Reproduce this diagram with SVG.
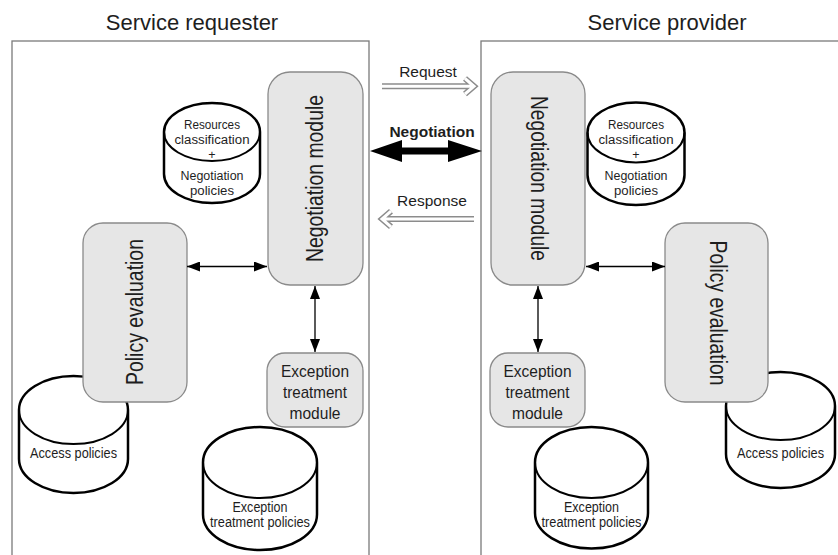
<svg xmlns="http://www.w3.org/2000/svg" width="838" height="555" viewBox="0 0 838 555">
<style>
text{font-family:"Liberation Sans",Arial,sans-serif;fill:#1e1e1e}
.title{font-size:22px;text-anchor:middle}
.panel{fill:none;stroke:#7a7a7a;stroke-width:1.3}
.mod{fill:#e6e6e6;stroke:#8a8a8a;stroke-width:1.3}
.big{font-size:23px;text-anchor:middle}
.mid{font-size:17px;text-anchor:middle}
.sm{font-size:14px;text-anchor:middle}
.xs{font-size:12.5px;text-anchor:middle}
.cyl{fill:#fff;stroke:#000;stroke-width:2.5}
.cylin{fill:none;stroke:#000;stroke-width:2}
.link{fill:none;stroke:#000;stroke-width:1.3}
.hol1{fill:none;stroke:#8c8c8c;stroke-width:6}
.hol2{fill:none;stroke:#fff;stroke-width:3}
.lbl{font-size:15.5px;text-anchor:middle}
</style>
<defs>
<marker id="ah" viewBox="0 0 13 10" refX="13" refY="5" markerWidth="13" markerHeight="10" markerUnits="userSpaceOnUse" orient="auto-start-reverse">
<path d="M0,0 L13,5 L0,10 z" fill="#000"/>
</marker>
</defs>
<rect width="838" height="555" fill="#fff"/>

<g id="requester-panel">
<rect class="panel" x="12" y="41" width="357" height="530"/>
<text class="title" x="192" y="30">Service requester</text>
</g>
<g id="provider-panel">
<rect class="panel" x="481" y="41" width="400" height="530"/>
<text class="title" x="667" y="30">Service provider</text>
</g>

<g id="req-resources-db">
<path class="cyl" d="M164,132 A48,29 0 0 1 260,132 V174 A48,29 0 0 1 164,174 Z"/>
<path class="cylin" d="M164,132 A48,29 0 0 0 260,132"/>
<text class="xs" x="212" y="129" textLength="56" lengthAdjust="spacingAndGlyphs">Resources</text>
<text class="xs" x="212" y="143.5" textLength="75" lengthAdjust="spacingAndGlyphs">classification</text>
<text class="xs" x="212" y="159">+</text>
<text class="xs" x="212" y="180" textLength="63" lengthAdjust="spacingAndGlyphs">Negotiation</text>
<text class="xs" x="212" y="194.5" textLength="44" lengthAdjust="spacingAndGlyphs">policies</text>
</g>

<g id="prov-resources-db">
<path class="cyl" d="M587.5,132.5 A48.5,30 0 0 1 684.5,132.5 V175 A48.5,30 0 0 1 587.5,175 Z"/>
<path class="cylin" d="M587.5,132.5 A48.5,30 0 0 0 684.5,132.5"/>
<text class="xs" x="636" y="129" textLength="56" lengthAdjust="spacingAndGlyphs">Resources</text>
<text class="xs" x="636" y="143.5" textLength="75" lengthAdjust="spacingAndGlyphs">classification</text>
<text class="xs" x="636" y="159">+</text>
<text class="xs" x="636" y="180" textLength="63" lengthAdjust="spacingAndGlyphs">Negotiation</text>
<text class="xs" x="636" y="194.5" textLength="44" lengthAdjust="spacingAndGlyphs">policies</text>
</g>

<g id="req-access-db">
<path class="cyl" d="M19,410 A54.5,34 0 0 1 128,410 V459 A54.5,34 0 0 1 19,459 Z"/>
<path class="cylin" d="M19,410 A54.5,34 0 0 0 128,410"/>
<text class="sm" x="73.5" y="457.5" textLength="87" lengthAdjust="spacingAndGlyphs">Access policies</text>
</g>

<g id="prov-access-db">
<path class="cyl" d="M726,406 A54.5,34 0 0 1 835,406 V454 A54.5,34 0 0 1 726,454 Z"/>
<path class="cylin" d="M726,406 A54.5,34 0 0 0 835,406"/>
<text class="sm" x="780.5" y="457.5" textLength="87" lengthAdjust="spacingAndGlyphs">Access policies</text>
</g>

<g id="req-exception-db">
<path class="cyl" d="M203,462.5 A57,35.5 0 0 1 317,462.5 V514.5 A57,35.5 0 0 1 203,514.5 Z"/>
<path class="cylin" d="M203,462.5 A57,35.5 0 0 0 317,462.5"/>
<text class="sm" x="260" y="512" textLength="55" lengthAdjust="spacingAndGlyphs">Exception</text>
<text class="sm" x="260" y="527" textLength="100" lengthAdjust="spacingAndGlyphs">treatment policies</text>
</g>

<g id="prov-exception-db">
<path class="cyl" d="M535,462.5 A56.5,35.5 0 0 1 648,462.5 V513 A56.5,35.5 0 0 1 535,513 Z"/>
<path class="cylin" d="M535,462.5 A56.5,35.5 0 0 0 648,462.5"/>
<text class="sm" x="591.5" y="512" textLength="55" lengthAdjust="spacingAndGlyphs">Exception</text>
<text class="sm" x="591.5" y="527" textLength="100" lengthAdjust="spacingAndGlyphs">treatment policies</text>
</g>

<g id="req-negotiation-module">
<rect class="mod" x="268" y="72" width="95" height="213" rx="22"/>
<text class="big" transform="translate(323,178.5) rotate(-90)" textLength="167" lengthAdjust="spacingAndGlyphs">Negotiation module</text>
</g>

<g id="prov-negotiation-module">
<rect class="mod" x="491" y="72" width="94" height="213" rx="22"/>
<text class="big" transform="translate(531,178.5) rotate(90)" textLength="165" lengthAdjust="spacingAndGlyphs">Negotiation module</text>
</g>

<g id="req-policy-evaluation">
<rect class="mod" x="83" y="223" width="104" height="179" rx="20"/>
<text class="big" transform="translate(143,312) rotate(-90)" textLength="146" lengthAdjust="spacingAndGlyphs">Policy evaluation</text>
</g>

<g id="prov-policy-evaluation">
<rect class="mod" x="665" y="223" width="103" height="179" rx="20"/>
<text class="big" transform="translate(710,313) rotate(90)" textLength="145" lengthAdjust="spacingAndGlyphs">Policy evaluation</text>
</g>

<g id="req-exception-module">
<rect class="mod" x="267" y="353" width="96" height="74" rx="18"/>
<text class="mid" x="315" y="377" textLength="68" lengthAdjust="spacingAndGlyphs">Exception</text>
<text class="mid" x="315" y="398" textLength="64" lengthAdjust="spacingAndGlyphs">treatment</text>
<text class="mid" x="315" y="419" textLength="51" lengthAdjust="spacingAndGlyphs">module</text>
</g>

<g id="prov-exception-module">
<rect class="mod" x="490" y="353" width="95" height="74" rx="18"/>
<text class="mid" x="537.5" y="377" textLength="68" lengthAdjust="spacingAndGlyphs">Exception</text>
<text class="mid" x="537.5" y="398" textLength="64" lengthAdjust="spacingAndGlyphs">treatment</text>
<text class="mid" x="537.5" y="419" textLength="51" lengthAdjust="spacingAndGlyphs">module</text>
</g>

<g id="connectors">
<line class="link" x1="187" y1="266.5" x2="267" y2="266.5" marker-start="url(#ah)" marker-end="url(#ah)"/>
<line class="link" x1="586" y1="266.5" x2="665" y2="266.5" marker-start="url(#ah)" marker-end="url(#ah)"/>
<line class="link" x1="315" y1="286" x2="315" y2="352" marker-start="url(#ah)" marker-end="url(#ah)"/>
<line class="link" x1="538" y1="286" x2="538" y2="352" marker-start="url(#ah)" marker-end="url(#ah)"/>

<path class="hol1" d="M382,86.3 H472 M465,78.5 L474,86.3 L465,94"/>
<path class="hol2" d="M382,86.3 H472 M465,78.5 L474,86.3 L465,94"/>
<text class="lbl" x="428" y="77">Request</text>

<polygon points="370,151 402,140 402,147.5 448,147.5 448,140 482,151 448,162 448,154.5 402,154.5 402,162" fill="#000"/>
<text class="lbl" x="432" y="137" font-weight="bold" font-size="16">Negotiation</text>

<path class="hol1" d="M474,219 H384 M391,211.2 L382,219 L391,226.8"/>
<path class="hol2" d="M474,219 H384 M391,211.2 L382,219 L391,226.8"/>
<text class="lbl" x="432" y="205.5">Response</text>
</g>
</svg>
